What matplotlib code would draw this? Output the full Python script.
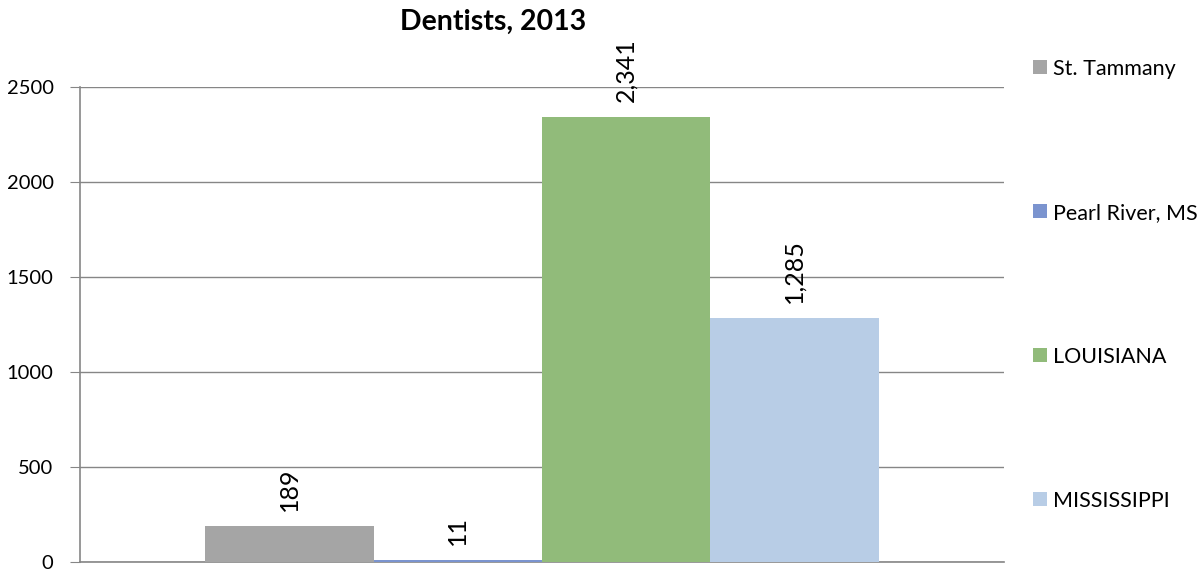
import matplotlib.pyplot as plt
import numpy as np

plt.rcParams['font.family'] = ['Lato', 'DejaVu Sans']

# Données
series = ['St. Tammany', 'Pearl River, MS', 'LOUISIANA', 'MISSISSIPPI']
values = [189, 11, 2341, 1285]
colors = ['#A5A5A5', '#7B94CF', '#91BB7A', '#B8CDE6']

fig = plt.figure(figsize=(12.01, 5.73), dpi=100)
ax = fig.add_axes([80 / 1201, 1 - 562 / 573, 924 / 1201, 475 / 573])

x = np.arange(len(values)) - 1.5
for xi, v, c, s in zip(x, values, colors, series):
    ax.bar(xi, v, width=1.0, color=c, label=s, zorder=3)
    ax.annotate(f'{v:,}', (xi, v), xytext=(0, 11), textcoords='offset points',
                rotation=90, ha='center', va='bottom', fontsize=18, color='black')

ax.set_xlim(-2.745, 2.745)
ax.set_ylim(0, 2500)
ax.set_yticks(np.arange(0, 2501, 500))
ax.tick_params(axis='y', labelsize=14.5, length=7, color='#868686', pad=12)
ax.set_xticks([])
ax.grid(axis='y', color='#868686', linewidth=1.0, zorder=0)
for side in ['top', 'right']:
    ax.spines[side].set_visible(False)
for side in ['left', 'bottom']:
    ax.spines[side].set_color('#868686')
    ax.spines[side].set_linewidth(1.2)

fig.text(493 / 1201, 1 - 22 / 573, 'Dentists, 2013', ha='center', va='center',
         fontsize=20.5, fontweight='bold')

fig.legend(loc='upper left', bbox_to_anchor=(1022 / 1201, 1 - 48 / 573),
           frameon=False, fontsize=15.5, handlelength=0.65, handleheight=0.65,
           handletextpad=0.3, labelspacing=5.76, borderpad=0)

fig.savefig('out.png', dpi=100)
